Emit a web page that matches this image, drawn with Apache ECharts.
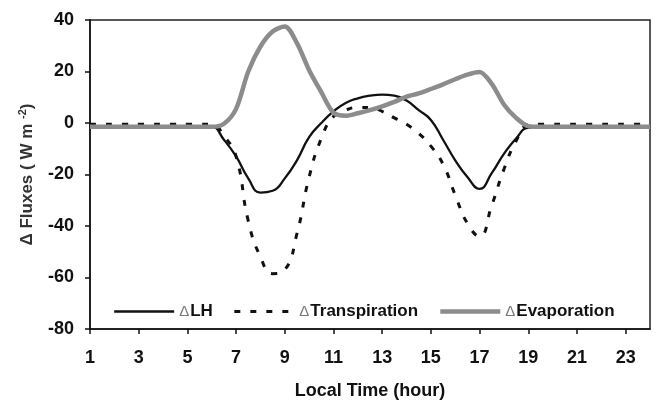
<!DOCTYPE html>
<html lang="en">
<head>
    <meta charset="UTF-8">
    <title>Delta Fluxes</title>
    <script src="https://cdn.jsdelivr.net/npm/echarts@6/dist/echarts.min.js"></script>
    <style>
        html, body {margin: 0; padding: 0; background: #fff;}
    </style>
</head>
<body>
<div id="main" style="width: 663px;height:405px;"></div>
<script>
    // local time (hour), half-hour steps
    var hours = [1, 1.5, 2, 2.5, 3, 3.5, 4, 4.5, 5, 5.5, 6, 6.5, 7, 7.5, 8, 8.5, 9, 9.5, 10, 10.5,
        11, 11.5, 12, 12.5, 13, 13.5, 14, 14.5, 15, 15.5, 16, 16.5, 17, 17.5, 18, 18.5, 19, 19.5,
        20, 20.5, 21, 21.5, 22, 22.5, 23, 23.5, 24];
    var lh = [-1.5, -1.5, -1.5, -1.5, -1.5, -1.5, -1.5, -1.5, -1.5, -1.5, -1.5, -6.5, -13, -21.5, -27, -26.3, -21.5, -14.5, -5.5, 0,
        4.5, 7.8, 9.6, 10.6, 11, 10.6, 8.7, 5, 1.2, -6.5, -14.5, -21, -25.6, -19.5, -12, -6, -1.8, -1.5,
        -1.5, -1.5, -1.5, -1.5, -1.5, -1.5, -1.5, -1.5, -1.5];
    var transpiration = [-0.5, -0.5, -0.5, -0.5, -0.5, -0.5, -0.5, -0.5, -0.5, -0.5, -0.5, -5, -13, -38, -52, -58.5, -57, -43, -21, -6,
        2.5, 5, 6, 6, 4.5, 2, -0.5, -4, -9, -16, -28, -39, -44, -32, -18, -7, -0.8, -0.5,
        -0.5, -0.5, -0.5, -0.5, -0.5, -0.5, -0.5, -0.5, -0.5];
    var evaporation = [-1.5, -1.5, -1.5, -1.5, -1.5, -1.5, -1.5, -1.5, -1.5, -1.5, -1.5, -0.3, 5.5, 20, 29.7, 35.5, 37.5, 31, 20.5, 12,
        4, 2.8, 3.8, 5, 6.5, 8.2, 10.2, 11.5, 13.2, 15, 17, 18.8, 19.8, 15.2, 7.2, 2, -1.2, -1.5,
        -1.5, -1.5, -1.5, -1.5, -1.5, -1.5, -1.5, -1.5, -1.5];
    var xTicks = [1, 3, 5, 7, 9, 11, 13, 15, 17, 19, 21, 23];
    var seriesNames = ['LH', 'Transpiration', 'Evaporation'];

    function pairs(values) {
        return hours.map(function (h, i) {
            return [h, values[i]];
        });
    }

    var font = '"Liberation Sans", Arial, sans-serif';
    var lineStyles = [
        {color: '#111', width: 2.3},
        {color: '#111', width: 3, type: [6, 10], cap: 'butt'},
        {color: '#8c8c8c', width: 4.5}
    ];
    var myChart = echarts.init(document.getElementById('main'));
    var option = {
        animation: false,
        textStyle: {fontFamily: font},
        grid: {
            left: 90, right: 13, top: 20, bottom: 74,
            show: true, borderColor: '#222', borderWidth: 1.5
        },
        legend: {
            left: 108, top: 298,
            itemWidth: 60, itemHeight: 14, itemGap: 20,
            itemStyle: {opacity: 0},
            data: seriesNames.map(function (n, i) {
                return {name: n, lineStyle: lineStyles[i]};
            }),
            formatter: function (name) {
                return '{d|\u0394}{t|' + name + '}';
            },
            textStyle: {
                rich: {
                    d: {fontFamily: font, fontSize: 15, color: '#777', padding: [0, 1, 0, 0]},
                    t: {fontFamily: font, fontSize: 17, fontWeight: 'bold', color: '#111'}
                }
            }
        },
        xAxis: {
            type: 'value', min: 1, max: 24,
            name: 'Local Time (hour)', nameLocation: 'middle', nameGap: 53,
            nameTextStyle: {fontFamily: font, fontSize: 18, fontWeight: 'bold', color: '#111'},
            axisLine: {onZero: false, lineStyle: {color: '#111', width: 1.5}},
            axisTick: {show: true, length: 5, customValues: xTicks, lineStyle: {color: '#111', width: 1.5}},
            axisLabel: {customValues: xTicks, margin: 20, fontSize: 18, fontWeight: 'bold', color: '#111'},
            splitLine: {show: false}
        },
        yAxis: {
            type: 'value', min: -80, max: 40, interval: 20,
            name: '\u0394 Fluxes ( W m {sup|-2})', nameLocation: 'middle', nameGap: 52, nameRotate: 90,
            nameTextStyle: {
                fontFamily: font, fontSize: 17, fontWeight: 'bold', color: '#333', lineHeight: 20,
                rich: {sup: {fontFamily: font, fontSize: 11, fontWeight: 'bold', color: '#333', verticalAlign: 'top', lineHeight: 20}}
            },
            axisLine: {show: true, onZero: false, lineStyle: {color: '#111', width: 1.5}},
            axisTick: {show: true, length: 5, lineStyle: {color: '#111', width: 1.5}},
            axisLabel: {margin: 16, fontSize: 18, fontWeight: 'bold', color: '#111'},
            splitLine: {show: false}
        },
        series: [{
            name: 'LH', type: 'line', symbol: 'none', smooth: 0.5,
            data: pairs(lh),
            lineStyle: lineStyles[0],
            itemStyle: {color: '#111'}
        }, {
            name: 'Transpiration', type: 'line', symbol: 'none', smooth: 0.5,
            data: pairs(transpiration),
            lineStyle: lineStyles[1],
            itemStyle: {color: '#111'}
        }, {
            name: 'Evaporation', type: 'line', symbol: 'none', smooth: 0.3,
            data: pairs(evaporation),
            lineStyle: lineStyles[2],
            itemStyle: {color: '#8c8c8c'}
        }]
    };
    myChart.setOption(option);
</script>
</body>
</html>
